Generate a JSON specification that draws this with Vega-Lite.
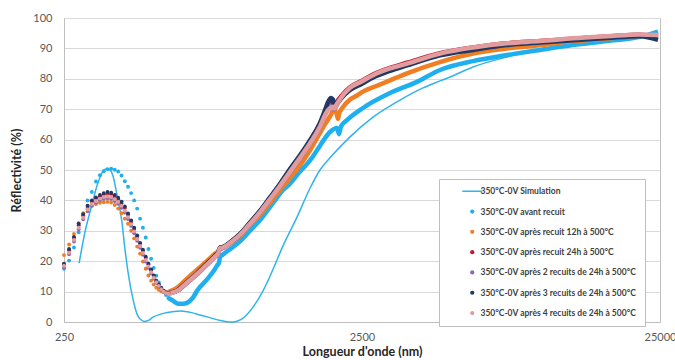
{
"$schema": "https://vega.github.io/schema/vega-lite/v6.json",
"width": 596, "height": 304,
"autosize": {"type": "none"},
"padding": {"left": 64, "top": 18, "right": 15, "bottom": 38},
"background": "white",
"config": {"view": {"stroke": "#BFBFBF", "strokeWidth": 1}, "font": "Lato"},
"data": {"values": [
{"s":"s0","w":281,"r":19.4},{"s":"s0","w":294,"r":29.6},{"s":"s0","w":310,"r":38.5},{"s":"s0","w":323,"r":45},{"s":"s0","w":335,"r":49},{"s":"s0","w":346,"r":50.3},{"s":"s0","w":357,"r":50},{"s":"s0","w":365,"r":48},{"s":"s0","w":377,"r":41.5},{"s":"s0","w":391,"r":33},{"s":"s0","w":400,"r":24.3},{"s":"s0","w":410,"r":16.4},{"s":"s0","w":426,"r":7.5},{"s":"s0","w":440,"r":2.5},{"s":"s0","w":450,"r":1},{"s":"s0","w":467,"r":0.2},{"s":"s0","w":482,"r":0.6},{"s":"s0","w":497,"r":1.6},{"s":"s0","w":525,"r":2.5},{"s":"s0","w":555,"r":3.1},{"s":"s0","w":613,"r":3.6},{"s":"s0","w":675,"r":3},{"s":"s0","w":715,"r":2.3},{"s":"s0","w":760,"r":1.6},{"s":"s0","w":835,"r":0.5},{"s":"s0","w":880,"r":0.1},{"s":"s0","w":923,"r":0},{"s":"s0","w":960,"r":0.4},{"s":"s0","w":998,"r":1.3},{"s":"s0","w":1077,"r":4.9},{"s":"s0","w":1167,"r":10.5},{"s":"s0","w":1253,"r":17},{"s":"s0","w":1353,"r":24.7},{"s":"s0","w":1513,"r":34.5},{"s":"s0","w":1673,"r":44},{"s":"s0","w":1807,"r":50},{"s":"s0","w":1952,"r":54},{"s":"s0","w":2279,"r":60.9},{"s":"s0","w":2722,"r":67.4},{"s":"s0","w":3353,"r":73},{"s":"s0","w":4005,"r":77},{"s":"s0","w":4568,"r":79.3},{"s":"s0","w":4934,"r":80.6},{"s":"s0","w":5896,"r":83.9},{"s":"s0","w":7667,"r":87.2},{"s":"s0","w":9896,"r":89.8},{"s":"s0","w":12765,"r":91.2},{"s":"s0","w":16598,"r":92.6},{"s":"s0","w":21430,"r":93.8},{"s":"s0","w":24617,"r":94.5},

{"s":"s1","w":250,"r":17.5},{"s":"s1","w":260,"r":20.2},{"s":"s1","w":270,"r":24.5},{"s":"s1","w":280,"r":29.5},{"s":"s1","w":290,"r":35},{"s":"s1","w":300,"r":40},{"s":"s1","w":310,"r":42.8},{"s":"s1","w":320,"r":46.2},{"s":"s1","w":330,"r":48.3},{"s":"s1","w":340,"r":49.6},{"s":"s1","w":350,"r":50.3},{"s":"s1","w":360,"r":50.4},{"s":"s1","w":370,"r":50.1},{"s":"s1","w":380,"r":49.5},{"s":"s1","w":390,"r":48.2},{"s":"s1","w":400,"r":46.3},{"s":"s1","w":410,"r":44.5},{"s":"s1","w":420,"r":42.4},{"s":"s1","w":430,"r":40},{"s":"s1","w":440,"r":37.3},{"s":"s1","w":450,"r":34},{"s":"s1","w":460,"r":31},{"s":"s1","w":470,"r":27.8},{"s":"s1","w":480,"r":24},{"s":"s1","w":490,"r":20.8},{"s":"s1","w":500,"r":17.8},{"s":"s1","w":510,"r":15.2},{"s":"s1","w":520,"r":13},{"s":"s1","w":530,"r":11.3},{"s":"s1","w":540,"r":10},{"s":"s1","w":550,"r":8.9},{"s":"s1","w":560,"r":7.9},
{"s":"s1","w":580,"r":7},{"s":"s1","w":590,"r":6.5},{"s":"s1","w":603,"r":6},{"s":"s1","w":627,"r":6},{"s":"s1","w":647,"r":6.3},{"s":"s1","w":677,"r":8},{"s":"s1","w":699,"r":10.3},{"s":"s1","w":755,"r":14},{"s":"s1","w":791,"r":16.5},{"s":"s1","w":815,"r":18.5},{"s":"s1","w":828,"r":19.5},{"s":"s1","w":835,"r":21.5},{"s":"s1","w":848,"r":22},{"s":"s1","w":923,"r":24.7},{"s":"s1","w":974,"r":26.5},{"s":"s1","w":1052,"r":30},{"s":"s1","w":1137,"r":33.5},{"s":"s1","w":1200,"r":36.5},{"s":"s1","w":1276,"r":40},{"s":"s1","w":1358,"r":43.4},{"s":"s1","w":1433,"r":45.5},{"s":"s1","w":1548,"r":49.5},{"s":"s1","w":1635,"r":52},{"s":"s1","w":1712,"r":54.5},{"s":"s1","w":1807,"r":58},{"s":"s1","w":1952,"r":62.5},{"s":"s1","w":2061,"r":63.8},{"s":"s1","w":2093,"r":61.8},{"s":"s1","w":2125,"r":64.3},{"s":"s1","w":2226,"r":66.4},{"s":"s1","w":2519,"r":70.4},{"s":"s1","w":3104,"r":75.3},{"s":"s1","w":3824,"r":79},{"s":"s1","w":4568,"r":82.9},{"s":"s1","w":5896,"r":85.8},{"s":"s1","w":7667,"r":87.8},{"s":"s1","w":9896,"r":89.5},{"s":"s1","w":12765,"r":91.1},{"s":"s1","w":16598,"r":92.4},{"s":"s1","w":21430,"r":93.8},{"s":"s1","w":24617,"r":95.5},

{"s":"s2","w":250,"r":22},{"s":"s2","w":260,"r":25.5},{"s":"s2","w":270,"r":29},{"s":"s2","w":280,"r":32.5},{"s":"s2","w":290,"r":35.8},{"s":"s2","w":300,"r":37.3},{"s":"s2","w":310,"r":38.2},{"s":"s2","w":320,"r":38.8},{"s":"s2","w":330,"r":39.2},{"s":"s2","w":340,"r":39.4},{"s":"s2","w":350,"r":39.5},{"s":"s2","w":360,"r":39.3},{"s":"s2","w":370,"r":38.5},{"s":"s2","w":380,"r":37.3},{"s":"s2","w":390,"r":35.8},{"s":"s2","w":400,"r":34},{"s":"s2","w":410,"r":32.3},{"s":"s2","w":420,"r":30},{"s":"s2","w":430,"r":27.5},{"s":"s2","w":440,"r":24.8},{"s":"s2","w":450,"r":22.5},{"s":"s2","w":460,"r":19.9},{"s":"s2","w":470,"r":17.5},{"s":"s2","w":480,"r":15.3},{"s":"s2","w":490,"r":13.6},{"s":"s2","w":500,"r":12.3},{"s":"s2","w":510,"r":11.3},{"s":"s2","w":520,"r":10.6},{"s":"s2","w":530,"r":10.1},{"s":"s2","w":540,"r":9.9},{"s":"s2","w":550,"r":9.8},{"s":"s2","w":560,"r":9.9},
{"s":"s2","w":580,"r":10.5},{"s":"s2","w":603,"r":11.5},{"s":"s2","w":627,"r":13},{"s":"s2","w":662,"r":15.2},{"s":"s2","w":699,"r":17.2},{"s":"s2","w":743,"r":19.5},{"s":"s2","w":773,"r":21},{"s":"s2","w":803,"r":22.5},{"s":"s2","w":822,"r":23.2},{"s":"s2","w":835,"r":24},{"s":"s2","w":848,"r":24.4},{"s":"s2","w":874,"r":25},{"s":"s2","w":902,"r":25.8},{"s":"s2","w":974,"r":28.3},{"s":"s2","w":1052,"r":31.8},{"s":"s2","w":1137,"r":35.3},{"s":"s2","w":1228,"r":39.2},{"s":"s2","w":1327,"r":43.4},{"s":"s2","w":1433,"r":47.4},{"s":"s2","w":1548,"r":51.5},{"s":"s2","w":1673,"r":56.5},{"s":"s2","w":1807,"r":62.2},{"s":"s2","w":1878,"r":65},{"s":"s2","w":1922,"r":66.5},{"s":"s2","w":1967,"r":68.2},{"s":"s2","w":1998,"r":69.5},{"s":"s2","w":2029,"r":69.5},{"s":"s2","w":2061,"r":68},{"s":"s2","w":2077,"r":66.8},{"s":"s2","w":2093,"r":68.5},{"s":"s2","w":2159,"r":70.7},{"s":"s2","w":2279,"r":73.2},{"s":"s2","w":2405,"r":74.5},{"s":"s2","w":2500,"r":75.6},{"s":"s2","w":2807,"r":77.7},{"s":"s2","w":3104,"r":79.5},{"s":"s2","w":3540,"r":81.8},{"s":"s2","w":4568,"r":85.5},{"s":"s2","w":5896,"r":88.3},{"s":"s2","w":7667,"r":90},{"s":"s2","w":9896,"r":91},{"s":"s2","w":12765,"r":92.4},{"s":"s2","w":16598,"r":93.2},{"s":"s2","w":21430,"r":94.2},{"s":"s2","w":24617,"r":94.3},

{"s":"s3","w":250,"r":19},{"s":"s3","w":260,"r":23.6},{"s":"s3","w":270,"r":27.6},{"s":"s3","w":280,"r":31.8},{"s":"s3","w":290,"r":35},{"s":"s3","w":300,"r":37.8},{"s":"s3","w":310,"r":39.6},{"s":"s3","w":320,"r":40.6},{"s":"s3","w":330,"r":41.3},{"s":"s3","w":340,"r":41.9},{"s":"s3","w":350,"r":42.2},{"s":"s3","w":360,"r":42},{"s":"s3","w":370,"r":41.3},{"s":"s3","w":380,"r":40.4},{"s":"s3","w":390,"r":39.1},{"s":"s3","w":400,"r":37.5},{"s":"s3","w":410,"r":35.3},{"s":"s3","w":420,"r":33},{"s":"s3","w":430,"r":30.6},{"s":"s3","w":440,"r":28.1},{"s":"s3","w":450,"r":25.7},{"s":"s3","w":460,"r":23.4},{"s":"s3","w":470,"r":21.1},{"s":"s3","w":480,"r":18.9},{"s":"s3","w":490,"r":17},{"s":"s3","w":500,"r":15.1},{"s":"s3","w":510,"r":13.5},{"s":"s3","w":520,"r":12.2},{"s":"s3","w":530,"r":11.1},{"s":"s3","w":540,"r":10.2},{"s":"s3","w":550,"r":9.6},{"s":"s3","w":560,"r":9.5},
{"s":"s3","w":580,"r":9.8},{"s":"s3","w":603,"r":10.5},{"s":"s3","w":627,"r":11.9},{"s":"s3","w":662,"r":13.9},{"s":"s3","w":699,"r":16},{"s":"s3","w":743,"r":18.5},{"s":"s3","w":773,"r":20.1},{"s":"s3","w":803,"r":21.7},{"s":"s3","w":822,"r":22.7},{"s":"s3","w":835,"r":24.3},{"s":"s3","w":848,"r":24.5},{"s":"s3","w":874,"r":25.1},{"s":"s3","w":902,"r":26.1},{"s":"s3","w":974,"r":28.9},{"s":"s3","w":1052,"r":32.6},{"s":"s3","w":1137,"r":36.4},{"s":"s3","w":1228,"r":40.8},{"s":"s3","w":1327,"r":45.2},{"s":"s3","w":1433,"r":50},{"s":"s3","w":1548,"r":54.5},{"s":"s3","w":1673,"r":59.4},{"s":"s3","w":1807,"r":65},{"s":"s3","w":1878,"r":69},{"s":"s3","w":1922,"r":71},{"s":"s3","w":1967,"r":72},{"s":"s3","w":1998,"r":71.8},{"s":"s3","w":2013,"r":71},{"s":"s3","w":2061,"r":72.5},{"s":"s3","w":2109,"r":73.8},{"s":"s3","w":2279,"r":77.2},{"s":"s3","w":2500,"r":79.4},{"s":"s3","w":2722,"r":81.4},{"s":"s3","w":3104,"r":83.6},{"s":"s3","w":3540,"r":85.3},{"s":"s3","w":4568,"r":88.4},{"s":"s3","w":5896,"r":90.3},{"s":"s3","w":7667,"r":91.7},{"s":"s3","w":9896,"r":92.4},{"s":"s3","w":12765,"r":93.2},{"s":"s3","w":16598,"r":93.9},{"s":"s3","w":21430,"r":94.5},{"s":"s3","w":24617,"r":94},

{"s":"s4","w":250,"r":18},{"s":"s4","w":260,"r":22.3},{"s":"s4","w":270,"r":26.5},{"s":"s4","w":280,"r":30.5},{"s":"s4","w":290,"r":33.8},{"s":"s4","w":300,"r":36.4},{"s":"s4","w":310,"r":38.2},{"s":"s4","w":320,"r":39.2},{"s":"s4","w":330,"r":40},{"s":"s4","w":340,"r":40.5},{"s":"s4","w":350,"r":40.7},{"s":"s4","w":360,"r":40.5},{"s":"s4","w":370,"r":39.8},{"s":"s4","w":380,"r":38.9},{"s":"s4","w":390,"r":37.6},{"s":"s4","w":400,"r":36},{"s":"s4","w":410,"r":33.9},{"s":"s4","w":420,"r":31.6},{"s":"s4","w":430,"r":29.2},{"s":"s4","w":440,"r":26.7},{"s":"s4","w":450,"r":24.4},{"s":"s4","w":460,"r":22.1},{"s":"s4","w":470,"r":19.9},{"s":"s4","w":480,"r":17.8},{"s":"s4","w":490,"r":16},{"s":"s4","w":500,"r":14.3},{"s":"s4","w":510,"r":12.9},{"s":"s4","w":520,"r":11.7},{"s":"s4","w":530,"r":10.7},{"s":"s4","w":540,"r":9.9},{"s":"s4","w":550,"r":9.5},{"s":"s4","w":560,"r":9.4},
{"s":"s4","w":580,"r":9.7},{"s":"s4","w":603,"r":10.4},{"s":"s4","w":627,"r":11.7},{"s":"s4","w":662,"r":13.7},{"s":"s4","w":699,"r":15.7},{"s":"s4","w":743,"r":18.2},{"s":"s4","w":773,"r":19.8},{"s":"s4","w":803,"r":21.4},{"s":"s4","w":822,"r":22.4},{"s":"s4","w":835,"r":24},{"s":"s4","w":848,"r":24.2},{"s":"s4","w":874,"r":24.9},{"s":"s4","w":902,"r":25.9},{"s":"s4","w":974,"r":28.6},{"s":"s4","w":1052,"r":32.2},{"s":"s4","w":1137,"r":36},{"s":"s4","w":1228,"r":40.3},{"s":"s4","w":1327,"r":44.7},{"s":"s4","w":1433,"r":49.3},{"s":"s4","w":1548,"r":53.8},{"s":"s4","w":1673,"r":58.7},{"s":"s4","w":1807,"r":64.2},{"s":"s4","w":1878,"r":68},{"s":"s4","w":1922,"r":70.3},{"s":"s4","w":1967,"r":71.2},{"s":"s4","w":1998,"r":70.8},{"s":"s4","w":2013,"r":70},{"s":"s4","w":2061,"r":71.5},{"s":"s4","w":2109,"r":73},{"s":"s4","w":2279,"r":76.6},{"s":"s4","w":2500,"r":78.9},{"s":"s4","w":2722,"r":80.9},{"s":"s4","w":3104,"r":83.1},{"s":"s4","w":3540,"r":84.8},{"s":"s4","w":4568,"r":88},{"s":"s4","w":5896,"r":90},{"s":"s4","w":7667,"r":91.5},{"s":"s4","w":9896,"r":92.2},{"s":"s4","w":12765,"r":93.1},{"s":"s4","w":16598,"r":93.8},{"s":"s4","w":21430,"r":94.4},{"s":"s4","w":24617,"r":93.5},

{"s":"s5","w":250,"r":19.2},{"s":"s5","w":260,"r":24},{"s":"s5","w":270,"r":28},{"s":"s5","w":280,"r":32.3},{"s":"s5","w":290,"r":35.5},{"s":"s5","w":300,"r":38.3},{"s":"s5","w":310,"r":40},{"s":"s5","w":320,"r":41},{"s":"s5","w":330,"r":41.8},{"s":"s5","w":340,"r":42.4},{"s":"s5","w":350,"r":42.8},{"s":"s5","w":360,"r":42.5},{"s":"s5","w":370,"r":41.8},{"s":"s5","w":380,"r":40.9},{"s":"s5","w":390,"r":39.6},{"s":"s5","w":400,"r":38},{"s":"s5","w":410,"r":35.7},{"s":"s5","w":420,"r":33.4},{"s":"s5","w":430,"r":31},{"s":"s5","w":440,"r":28.5},{"s":"s5","w":450,"r":26},{"s":"s5","w":460,"r":23.8},{"s":"s5","w":470,"r":21.5},{"s":"s5","w":480,"r":19.2},{"s":"s5","w":490,"r":17.3},{"s":"s5","w":500,"r":15.3},{"s":"s5","w":510,"r":13.6},{"s":"s5","w":520,"r":12.4},{"s":"s5","w":530,"r":11.2},{"s":"s5","w":540,"r":10.3},{"s":"s5","w":550,"r":9.7},{"s":"s5","w":560,"r":9.5},
{"s":"s5","w":580,"r":9.8},{"s":"s5","w":603,"r":10.5},{"s":"s5","w":627,"r":12},{"s":"s5","w":662,"r":14},{"s":"s5","w":699,"r":16},{"s":"s5","w":743,"r":18.6},{"s":"s5","w":773,"r":20.2},{"s":"s5","w":803,"r":21.8},{"s":"s5","w":822,"r":22.8},{"s":"s5","w":835,"r":24.5},{"s":"s5","w":848,"r":24.6},{"s":"s5","w":874,"r":25.2},{"s":"s5","w":902,"r":26.2},{"s":"s5","w":974,"r":29},{"s":"s5","w":1052,"r":32.7},{"s":"s5","w":1137,"r":36.6},{"s":"s5","w":1228,"r":41},{"s":"s5","w":1327,"r":45.5},{"s":"s5","w":1433,"r":50.3},{"s":"s5","w":1548,"r":54.8},{"s":"s5","w":1673,"r":59.8},{"s":"s5","w":1807,"r":65.5},{"s":"s5","w":1878,"r":69.6},{"s":"s5","w":1922,"r":72.3},{"s":"s5","w":1967,"r":73.7},{"s":"s5","w":1998,"r":73.2},{"s":"s5","w":2013,"r":71},{"s":"s5","w":2061,"r":72},{"s":"s5","w":2109,"r":73.2},{"s":"s5","w":2279,"r":76.3},{"s":"s5","w":2500,"r":78.4},{"s":"s5","w":2722,"r":80.4},{"s":"s5","w":3104,"r":82.6},{"s":"s5","w":3540,"r":84.4},{"s":"s5","w":4568,"r":87.7},{"s":"s5","w":5896,"r":89.5},{"s":"s5","w":7667,"r":91.1},{"s":"s5","w":9896,"r":91.9},{"s":"s5","w":12765,"r":92.7},{"s":"s5","w":16598,"r":93.4},{"s":"s5","w":21430,"r":94},{"s":"s5","w":24617,"r":92.8},

{"s":"s6","w":250,"r":18.5},{"s":"s6","w":260,"r":22.8},{"s":"s6","w":270,"r":27},{"s":"s6","w":280,"r":31},{"s":"s6","w":290,"r":34.3},{"s":"s6","w":300,"r":37},{"s":"s6","w":310,"r":38.8},{"s":"s6","w":320,"r":39.8},{"s":"s6","w":330,"r":40.6},{"s":"s6","w":340,"r":41.1},{"s":"s6","w":350,"r":41.3},{"s":"s6","w":360,"r":41.1},{"s":"s6","w":370,"r":40.4},{"s":"s6","w":380,"r":39.5},{"s":"s6","w":390,"r":38.2},{"s":"s6","w":400,"r":36.6},{"s":"s6","w":410,"r":34.5},{"s":"s6","w":420,"r":32.2},{"s":"s6","w":430,"r":29.8},{"s":"s6","w":440,"r":27.3},{"s":"s6","w":450,"r":25},{"s":"s6","w":460,"r":22.7},{"s":"s6","w":470,"r":20.4},{"s":"s6","w":480,"r":18.3},{"s":"s6","w":490,"r":16.4},{"s":"s6","w":500,"r":14.6},{"s":"s6","w":510,"r":13.1},{"s":"s6","w":520,"r":11.9},{"s":"s6","w":530,"r":10.8},{"s":"s6","w":540,"r":10},{"s":"s6","w":550,"r":9.5},{"s":"s6","w":560,"r":9.4},
{"s":"s6","w":580,"r":9.7},{"s":"s6","w":603,"r":10.4},{"s":"s6","w":627,"r":11.8},{"s":"s6","w":662,"r":13.8},{"s":"s6","w":699,"r":15.8},{"s":"s6","w":743,"r":18.3},{"s":"s6","w":773,"r":19.9},{"s":"s6","w":803,"r":21.5},{"s":"s6","w":822,"r":22.5},{"s":"s6","w":835,"r":24.3},{"s":"s6","w":848,"r":24.4},{"s":"s6","w":874,"r":25},{"s":"s6","w":902,"r":26},{"s":"s6","w":974,"r":28.7},{"s":"s6","w":1052,"r":32.3},{"s":"s6","w":1137,"r":36.1},{"s":"s6","w":1228,"r":40.4},{"s":"s6","w":1327,"r":44.8},{"s":"s6","w":1433,"r":49.4},{"s":"s6","w":1548,"r":54},{"s":"s6","w":1673,"r":58.8},{"s":"s6","w":1807,"r":64.3},{"s":"s6","w":1878,"r":68},{"s":"s6","w":1922,"r":69.7},{"s":"s6","w":1967,"r":70.5},{"s":"s6","w":1998,"r":70.8},{"s":"s6","w":2013,"r":70.2},{"s":"s6","w":2061,"r":71.8},{"s":"s6","w":2109,"r":73.3},{"s":"s6","w":2279,"r":77},{"s":"s6","w":2500,"r":79.2},{"s":"s6","w":2722,"r":81.2},{"s":"s6","w":3104,"r":83.4},{"s":"s6","w":3540,"r":85},{"s":"s6","w":4568,"r":88.3},{"s":"s6","w":5896,"r":90.3},{"s":"s6","w":7667,"r":91.7},{"s":"s6","w":9896,"r":92.4},{"s":"s6","w":12765,"r":93.3},{"s":"s6","w":16598,"r":94},{"s":"s6","w":21430,"r":94.6},{"s":"s6","w":24617,"r":94.4}
]},
"encoding": {
  "x": {"field": "w", "type": "quantitative",
    "scale": {"type": "log", "domain": [250, 25000], "nice": false},
    "axis": {"values": [250, 2500, 25000], "format": "d", "title": "Longueur d'onde (nm)", "grid": false, "ticks": false,
      "domainColor": "#BFBFBF", "labelFont": "Lato", "labelFontSize": 11, "labelColor": "#595959", "labelPadding": 9,
      "labelFlush": false, "titleFont": "Lato", "titleFontSize": 12.5, "titleFontWeight": "bold", "titleColor": "#262626", "titlePadding": 3}},
  "y": {"field": "r", "type": "quantitative",
    "scale": {"domain": [0, 100], "nice": false},
    "axis": {"values": [0,10,20,30,40,50,60,70,80,90,100], "title": "Réflectivité (%)", "grid": true, "gridColor": "#D9D9D9", "ticks": false,
      "domainColor": "#BFBFBF", "labelFont": "Lato", "labelFontSize": 11, "labelColor": "#595959", "labelPadding": 12,
      "titleFont": "Lato", "titleFontSize": 12.5, "titleFontWeight": "bold", "titleColor": "#262626", "titlePadding": 9}},
  "color": {"field": "s", "type": "nominal",
    "scale": {"domain": ["s0","s1","s2","s3","s4","s5","s6"], "range": ["#30B4EA","#1EAFEE","#F07E22","#C0172F","#8A6BB0","#1F3864","#E29C9E"]},
    "legend": {"orient": "none", "legendX": 375, "legendY": 161, "title": null,
      "fillColor": "white", "strokeColor": "#BFBFBF", "padding": 8,
      "symbolSize": 400, "symbolType": "circle", "symbolOffset": 21, "labelOffset": 4, "rowPadding": 11.3,
      "labelFont": "Lato", "labelFontSize": 8.5, "labelFontWeight": "bold", "labelColor": "#404040", "labelLimit": 300,
      "labelExpr": "datum.value == 's0' ? '350°C-0V Simulation' : datum.value == 's1' ? '350°C-0V avant recuit' : datum.value == 's2' ? '350°C-0V après recuit 12h à 500°C' : datum.value == 's3' ? '350°C-0V après recuit 24h à 500°C' : datum.value == 's4' ? '350°C-0V après 2 recuits de 24h à 500°C' : datum.value == 's5' ? '350°C-0V après 3 recuits de 24h à 500°C' : '350°C-0V après 4 recuits de 24h à 500°C'",
      "encode": {"symbols": {"update": {
        "shape": {"signal": "datum.value == 's0' ? 'stroke' : 'circle'"},
        "size": {"signal": "datum.value == 's0' ? 400 : 18"},
        "stroke": {"scale": "color", "field": "value"},
        "strokeWidth": {"signal": "datum.value == 's0' ? 1.5 : 0"},
        "fill": {"scale": "color", "field": "value"},
        "opacity": {"value": 1}
      }}}}
  }
},
"layer": [
  {"transform": [{"filter": "datum.s == 's0'"}],
   "mark": {"type": "line", "interpolate": "monotone", "strokeWidth": 1.5}},
  {"transform": [{"filter": "datum.s != 's0' && datum.w >= 560"}],
   "mark": {"type": "line", "interpolate": "monotone", "strokeWidth": 4.5}},
  {"transform": [{"filter": "datum.s != 's0' && datum.w <= 560"}],
   "mark": {"type": "point", "filled": true, "size": 15, "opacity": 1}}
]
}
